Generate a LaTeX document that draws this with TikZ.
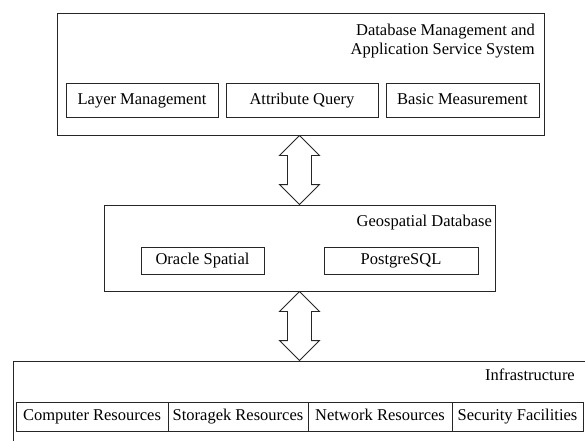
\documentclass[tikz,border=0pt]{standalone}
\usepackage{fontspec}
\setmainfont{Liberation Serif}
\usetikzlibrary{calc}
\begin{document}
\begin{tikzpicture}[x=1pt,y=1pt,
  box/.style={draw=black!85, line width=0.9pt, inner sep=0pt, anchor=center},
  item/.style={box, font=\fontsize{16.5}{19}\selectfont, text height=11.5pt, text depth=3.5pt},
  title/.style={inner sep=0pt, font=\fontsize{16.5}{19}\selectfont, align=right, anchor=east},
  dbl/.style={draw=black!85, line width=0.9pt, line join=miter, fill=white}]
\useasboundingbox (0,0) rectangle (585,440);
\clip (0,0) rectangle (585,440);
\fill[white] (0,0) rectangle (585,440);
% top layer
\node[box, minimum width=487, minimum height=122] (top) at (300.5,366) {};
\node[title] (toptitle) at (535,398.5) {Database Management and\\Application Service System};
\node[item, minimum width=152, minimum height=34] (layer) at (142,340) {Layer Management};
\node[item, minimum width=152, minimum height=34] (attr) at (302,340) {Attribute Query};
\node[item, minimum width=153, minimum height=34] (basic) at (462.5,340) {Basic Measurement};
% middle layer
\node[box, minimum width=391, minimum height=86] (mid) at (299.5,192) {};
\node[title] (midtitle) at (492,217) {Geospatial Database};
\node[item, minimum width=123, minimum height=27] (oracle) at (202.5,179.5) {Oracle Spatial};
\node[item, minimum width=154, minimum height=27] (pg) at (401,179.5) {PostgreSQL};
% bottom layer
\node[box, minimum width=577, minimum height=89] (bot) at (301.5,34.5) {};
\node[title] (bottitle) at (575,65) {Infrastructure};
\node[item, minimum width=152, minimum height=29] (comp) at (92,23.5) {Computer Resources};
\node[item, minimum width=140, minimum height=29] (stor) at (238,23.5) {Storagek Resources};
\node[item, minimum width=144, minimum height=29] (net) at (380,23.5) {Network Resources};
\node[item, minimum width=131, minimum height=29] (sec) at (517.5,23.5) {Security Facilities};
% double arrows
\coordinate (a1t) at (top.south -| mid.north);
\coordinate (a1b) at (mid.north);
\coordinate (a2t) at (mid.south);
\coordinate (a2b) at (bot.north -| mid.south);
\foreach \t/\b in {a1t/a1b, a2t/a2b}{
  \draw[dbl] (\t) -- ($(\t)+(-20,-20)$) -- ($(\t)+(-12,-20)$) -- ($(\b)+(-12,20)$) -- ($(\b)+(-20,20)$)
    -- (\b) -- ($(\b)+(20,20)$) -- ($(\b)+(12,20)$) -- ($(\t)+(12,-20)$) -- ($(\t)+(20,-20)$) -- cycle;
}
\end{tikzpicture}
\end{document}
